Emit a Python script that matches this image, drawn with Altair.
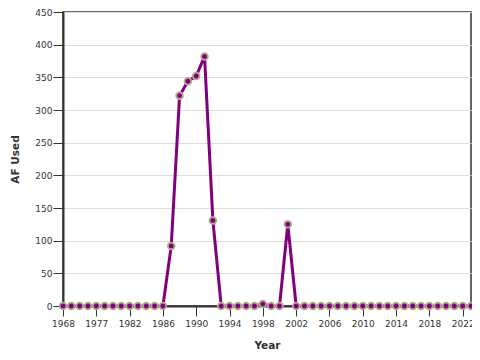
import altair as alt
import pandas as pd

years = [1968, 1970, 1972, 1975, 1977, 1978, 1979, 1980, 1982, 1983, 1984, 1985,
         1986, 1987, 1988, 1989, 1990, 1991, 1992, 1993, 1994, 1995, 1996, 1997,
         1998, 1999, 2000, 2001, 2002, 2003, 2004, 2005, 2006, 2007, 2008, 2009,
         2010, 2011, 2012, 2013, 2014, 2015, 2016, 2017, 2018, 2019, 2020, 2021,
         2022, 2023]
af_used = [0, 0, 0, 0, 0, 0, 0, 0, 0, 0, 0, 0,
           0, 92, 322, 344, 352, 382, 131, 0, 0, 0, 0, 0,
           3, 0, 0, 125, 0, 0, 0, 0, 0, 0, 0, 0,
           0, 0, 0, 0, 0, 0, 0, 0, 0, 0, 0, 0,
           0, 0]
tick_years = [1968, 1977, 1982, 1986, 1990, 1994, 1998, 2002, 2006, 2010, 2014, 2018, 2022]
y_ticks = list(range(0, 451, 50))

df = pd.DataFrame({"Year": years, "AF Used": af_used})

x = alt.X("Year:O",
          scale=alt.Scale(type="point", padding=0),
          axis=alt.Axis(values=tick_years, labelAngle=0, grid=False, tickSize=10,
                        labelPadding=3, titlePadding=12, labelOverlap=False))
y = alt.Y("AF Used:Q",
          scale=alt.Scale(domain=[0, 450], nice=False),
          axis=alt.Axis(values=y_ticks, tickSize=10, labelPadding=1, titlePadding=14))

line = alt.Chart(df).mark_line(color="#800080", strokeWidth=3).encode(x=x, y=y)
pts = alt.Chart(df).mark_point(filled=True, fill="#800080", stroke="#b3aa8a",
                               strokeWidth=1.8, size=45, opacity=1).encode(x=x, y=y)

chart = (line + pts).properties(
    width=408, height=294,
    autosize=alt.AutoSizeParams(type="none"),
    padding={"left": 55, "top": 4, "right": 1, "bottom": 46},
).configure_view(stroke="#333", strokeWidth=1.5).configure_axis(
    labelFont="DejaVu Sans", titleFont="DejaVu Sans", labelFontSize=9,
    titleFontSize=10.5, titleFontWeight="bold", labelColor="#333", titleColor="#333",
    domainColor="#333", domainWidth=2, tickColor="#333", gridColor="#ddd",
)

chart.save("out.html", embed_options={"renderer": "svg", "actions": False})
